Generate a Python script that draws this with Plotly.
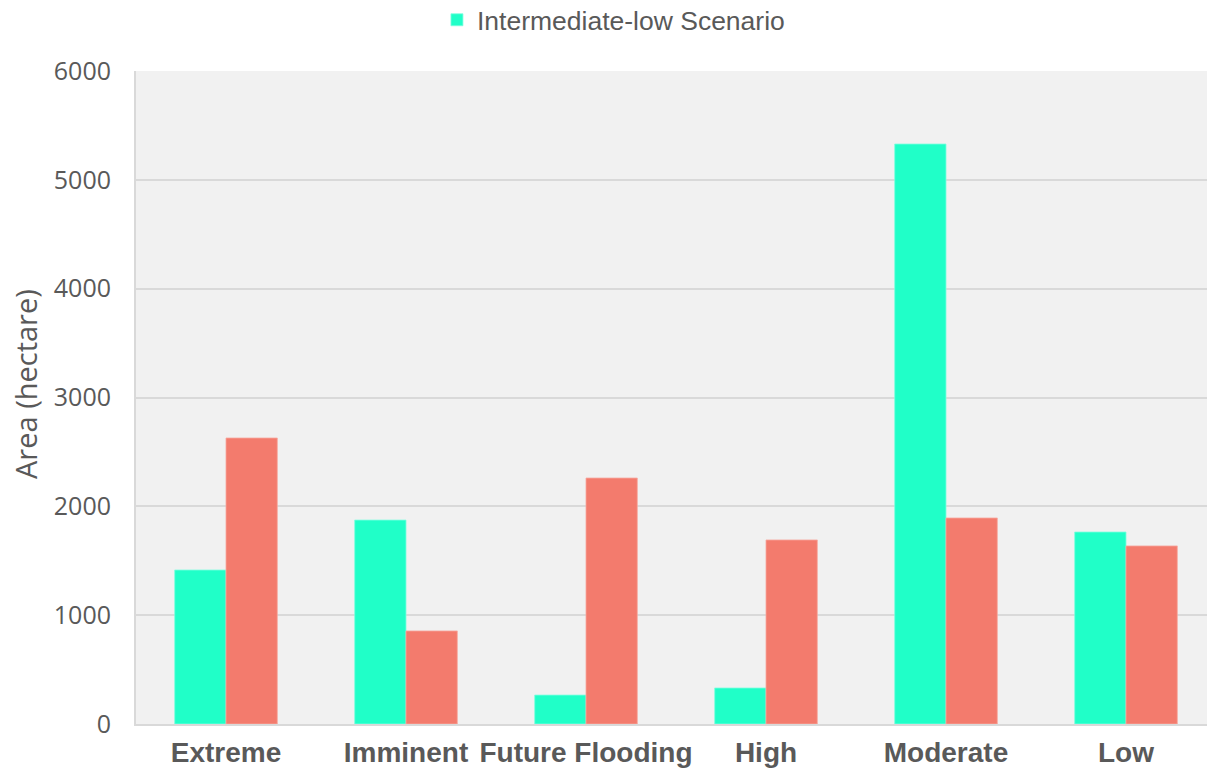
import plotly.graph_objects as go

categories = ["Extreme", "Imminent", "Future Flooding", "High", "Moderate", "Low"]
intermediate_low = [1415, 1874, 266, 331, 5329, 1764]
second_scenario = [2628, 855, 2260, 1691, 1893, 1636]
y_ticks = [0, 1000, 2000, 3000, 4000, 5000, 6000]

fig = go.Figure()
fig.add_trace(go.Bar(
    x=categories, y=intermediate_low, name="Intermediate-low Scenario",
    marker=dict(color="#20FFC8", line=dict(color="#7dffe0", width=0.8)),
))
fig.add_trace(go.Bar(
    x=categories, y=second_scenario, name="Scenario 2", showlegend=False,
    marker=dict(color="#F37B6D", line=dict(color="#f8a89f", width=0.8)),
))

fig.update_layout(
    width=1207, height=771,
    margin=dict(l=136, r=0, t=71, b=47, autoexpand=False),
    paper_bgcolor="white",
    plot_bgcolor="#F1F1F1",
    barmode="group", bargap=0.43, bargroupgap=0,
    showlegend=True,
    legend=dict(orientation="h", x=0.281, xanchor="left", y=0.974, yref="container",
                yanchor="middle", itemwidth=30,
                font=dict(family="Liberation Sans, Arial", size=26.5, color="#595959")),
    xaxis=dict(
        range=[-0.5, 5.45], showgrid=False, automargin=False,
        showline=True, linecolor="#D9D9D9", linewidth=2,
        tickfont=dict(family="Liberation Sans, Arial", size=28, color="#595959", weight="bold"),
        ticks="", ticklabelstandoff=2,
    ),
    yaxis=dict(
        range=[0, 6000], tickvals=y_ticks, automargin=False,
        showgrid=True, gridcolor="#D9D9D9", gridwidth=2,
        showline=True, linecolor="#D9D9D9", linewidth=2,
        zeroline=False,
        tickfont=dict(family="Open Sans", size=25, color="#595959"),
        ticklabelstandoff=18,
    ),
    annotations=[dict(
        text="Area (hectare)", textangle=-90, showarrow=False,
        xref="paper", yref="paper", x=-0.1027, y=0.5207,
        xanchor="center", yanchor="middle",
        font=dict(family="Open Sans", size=29, color="#595959"),
    )],
)

fig.write_html(
    "out.html",
    config={"displayModeBar": False},
    post_script="document.body.style.margin='0';document.body.style.overflow='hidden';",
)
